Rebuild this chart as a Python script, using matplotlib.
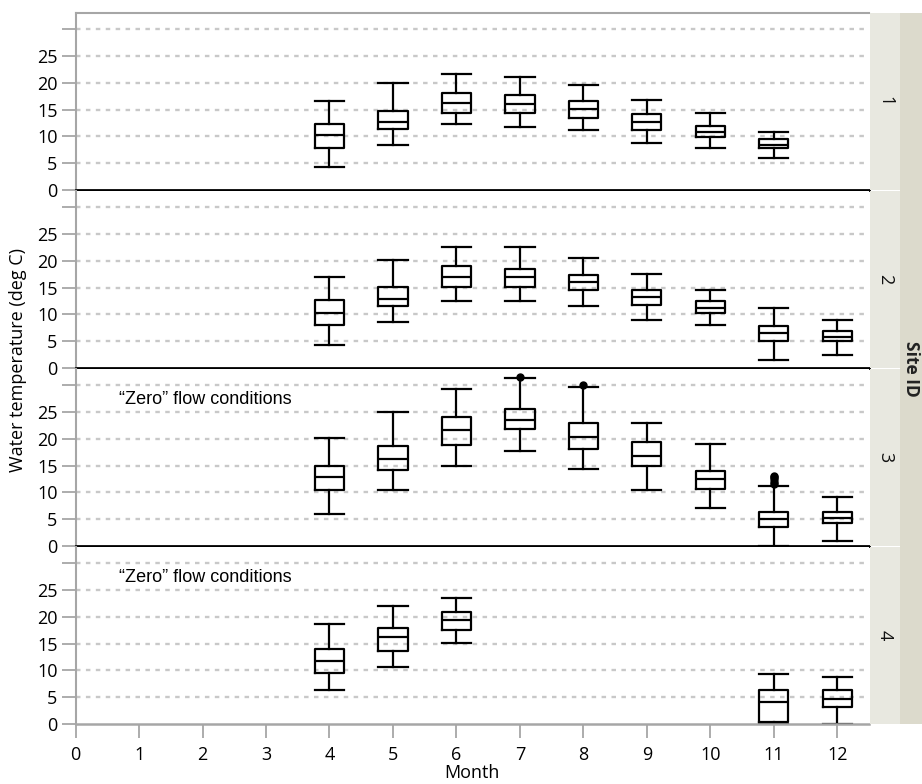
import matplotlib
matplotlib.use("Agg")
import matplotlib.pyplot as plt

plt.rcParams['font.family'] = ['Open Sans', 'DejaVu Sans']

# --- datos: cajas por sitio (mes, cuartiles, bigotes) ---
months_all = list(range(0, 13))
site_ids = ["1", "2", "3", "4"]

site1_months = [4, 5, 6, 7, 8, 9, 10, 11]
site1_lo = [4.2, 8.4, 12.35, 11.7, 11.1, 8.7, 7.8, 6.0]
site1_q1 = [7.8, 11.4, 14.4, 14.4, 13.5, 11.2, 9.9, 7.8]
site1_med = [10.25, 12.65, 16.2, 16.0, 15.05, 12.65, 10.8, 8.4]
site1_q3 = [12.35, 14.7, 18.0, 17.8, 16.5, 14.1, 12.0, 9.6]
site1_hi = [16.5, 19.9, 21.7, 21.1, 19.6, 16.85, 14.4, 10.8]
site1_fliers = [[], [], [], [], [], [], [], []]

site2_months = [4, 5, 6, 7, 8, 9, 10, 11, 12]
site2_lo = [4.2, 8.5, 12.4, 12.4, 11.5, 9.0, 8.1, 1.45, 2.4]
site2_q1 = [8.1, 11.5, 15.1, 15.1, 14.5, 11.8, 10.3, 5.05, 5.05]
site2_med = [10.3, 12.95, 16.95, 16.95, 16.0, 13.3, 11.15, 6.6, 5.8]
site2_q3 = [12.7, 15.1, 19.1, 18.45, 17.25, 14.5, 12.4, 7.8, 6.9]
site2_hi = [16.95, 20.2, 22.5, 22.5, 20.6, 17.6, 14.5, 11.15, 9.0]
site2_fliers = [[], [], [], [], [], [], [], [], []]

site3_months = [4, 5, 6, 7, 8, 9, 10, 11, 12]
site3_lo = [5.9, 10.4, 14.95, 17.7, 14.4, 10.4, 7.1, 0.0, 1.0]
site3_q1 = [10.4, 14.1, 18.9, 21.9, 18.0, 15.0, 10.6, 3.6, 4.3]
site3_med = [12.85, 16.2, 21.7, 23.5, 20.4, 16.7, 12.4, 5.1, 5.2]
site3_q3 = [14.95, 18.6, 24.1, 25.6, 22.85, 19.4, 14.0, 6.4, 6.4]
site3_hi = [20.1, 25.0, 29.2, 31.4, 29.7, 22.85, 19.1, 11.1, 9.1]
site3_fliers = [[], [], [], [31.6], [30.0], [], [], [11.6, 12.0, 12.4, 12.8, 13.1], []]

site4_months = [4, 5, 6, 11, 12]
site4_lo = [6.25, 10.55, 15.1, 0.0, 0.0]
site4_q1 = [9.55, 13.55, 17.5, 0.4, 3.2]
site4_med = [11.75, 16.2, 19.4, 4.1, 4.6]
site4_q3 = [13.9, 17.9, 20.9, 6.25, 6.25]
site4_hi = [18.6, 22.0, 23.4, 9.3, 8.7]
site4_fliers = [[], [], [], [], []]

y_ticks = [0, 5, 10, 15, 20, 25, 30]
y_ticklabels = ["0", "5", "10", "15", "20", "25", ""]
note_sites = ["3", "4"]
note_text = "\u201cZero\u201d flow conditions"

sites = [
    (site1_months, site1_lo, site1_q1, site1_med, site1_q3, site1_hi, site1_fliers),
    (site2_months, site2_lo, site2_q1, site2_med, site2_q3, site2_hi, site2_fliers),
    (site3_months, site3_lo, site3_q1, site3_med, site3_q3, site3_hi, site3_fliers),
    (site4_months, site4_lo, site4_q1, site4_med, site4_q3, site4_hi, site4_fliers),
]

# --- figura ---
W, H = 922, 784
fig = plt.figure(figsize=(W / 100, H / 100), dpi=100)


def px_axes(x0, y0, x1, y1):
    return fig.add_axes([x0 / W, 1 - y1 / H, (x1 - x0) / W, (y1 - y0) / H])


gray = "#a6a6a6"
tops = [13, 191, 369, 547]
ph = 177
x_left, x_right = 75.6, 869

line_kw = dict(color="black", linewidth=1.6)

for i, (mon, lo, q1, med, q3, hi, fl) in enumerate(sites):
    ax = px_axes(x_left, tops[i], x_right, tops[i] + ph)
    ax.set_xlim(0, 12.5)
    ax.set_ylim(0, 33)

    for yv in y_ticks[1:]:
        ax.axhline(yv, color="#c8c8c8", linewidth=1.7,
                   linestyle=(0, (1.9, 2.3)), zorder=0)

    stats = [dict(med=m, q1=a, q3=b, whislo=l, whishi=h, fliers=f)
             for l, a, m, b, h, f in zip(lo, q1, med, q3, hi, fl)]
    ax.bxp(stats, positions=mon, widths=0.46, capwidths=0.46,
           boxprops=line_kw, medianprops=line_kw, whiskerprops=line_kw,
           capprops=line_kw,
           flierprops=dict(marker="o", markerfacecolor="black",
                           markeredgecolor="black", markersize=5),
           manage_ticks=False)

    ax.set_yticks(y_ticks)
    ax.set_yticklabels(y_ticklabels)
    ax.tick_params(axis="y", length=10, width=1.3, color=gray, pad=3,
                   labelsize=13)
    ax.spines["left"].set_color(gray)
    ax.spines["left"].set_linewidth(1.5)
    ax.spines["right"].set_visible(False)
    if i == 0:
        ax.spines["top"].set_color(gray)
        ax.spines["top"].set_linewidth(1.5)
    else:
        ax.spines["top"].set_visible(False)

    if i < 3:
        ax.spines["bottom"].set_color("black")
        ax.spines["bottom"].set_linewidth(2)
        ax.set_xticks([])
    else:
        ax.spines["bottom"].set_color(gray)
        ax.spines["bottom"].set_linewidth(1.8)
        ax.set_xticks(months_all)
        ax.tick_params(axis="x", length=10, width=1.3, color=gray, pad=6,
                       labelsize=13)

    if site_ids[i] in note_sites:
        ax.text(0.68, 27.4, note_text, fontsize=13, va="center",
                family=["Liberation Sans", "DejaVu Sans"])

    # franja con el número de sitio
    sx = px_axes(870, tops[i], 900, tops[i] + ph)
    sx.set_facecolor("#e8e8e0")
    sx.set_xticks([])
    sx.set_yticks([])
    for s in sx.spines.values():
        s.set_visible(False)
    sx.text(0.5, 0.5, site_ids[i], rotation=270, ha="center", va="center",
            fontsize=13, color="#111111", transform=sx.transAxes)

outer = px_axes(900, 13, 922, tops[3] + ph)
outer.set_facecolor("#dcdacc")
outer.set_xticks([])
outer.set_yticks([])
for s in outer.spines.values():
    s.set_visible(False)
outer.text(0.5, 0.5, "Site ID", rotation=270, ha="center", va="center",
           fontsize=12.5, fontweight="bold", color="#222222",
           transform=outer.transAxes)

fig.text(18 / W, 1 - 360 / H, "Water temperature (deg C)", rotation=90,
         ha="center", va="center", fontsize=13)
fig.text((x_left + x_right) / 2 / W, 1 - 773 / H, "Month",
         ha="center", va="center", fontsize=13)

fig.savefig("out.png", dpi=100)
